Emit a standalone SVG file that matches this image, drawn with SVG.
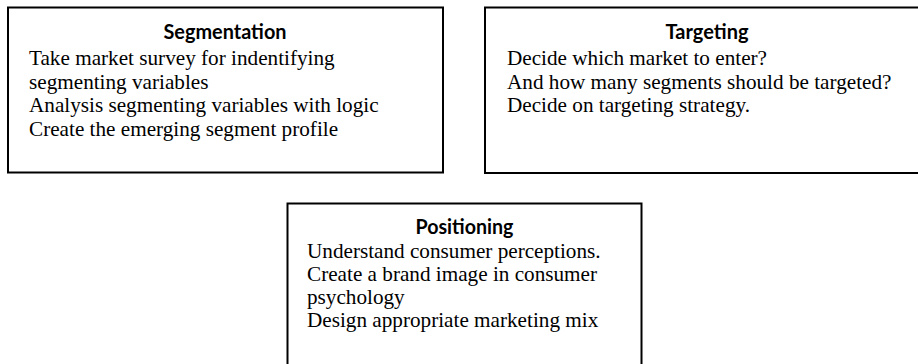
<svg xmlns="http://www.w3.org/2000/svg" width="918" height="364" viewBox="0 0 918 364">
<style>
.box{fill:#fff;stroke:#000;stroke-width:2}
.title{font-family:Lato,"Open Sans","Liberation Sans",sans-serif;font-weight:bold;font-size:20px;fill:#000;text-anchor:middle}
.body{font-family:"Liberation Serif","Times New Roman",serif;font-size:21.2px;fill:#000}
</style>
<rect width="918" height="364" fill="#fff"/>
<g id="connectors"/>
<g id="segmentation">
<rect class="box" x="8" y="7.5" width="435" height="165"/>
<text class="title" x="225" y="39" textLength="123" lengthAdjust="spacingAndGlyphs">Segmentation</text>
<text class="body" x="29" y="65">Take market survey for indentifying</text>
<text class="body" x="29" y="88.5">segmenting variables</text>
<text class="body" x="29" y="112">Analysis segmenting variables with logic</text>
<text class="body" x="29" y="135.5">Create the emerging segment profile</text>
</g>
<g id="targeting">
<rect class="box" x="485" y="7.5" width="445" height="165.5"/>
<text class="title" x="707" y="39" textLength="83" lengthAdjust="spacingAndGlyphs">Targeting</text>
<text class="body" x="507" y="65">Decide which market to enter?</text>
<text class="body" x="507" y="88.5">And how many segments should be targeted?</text>
<text class="body" x="507" y="112">Decide on targeting strategy.</text>
</g>
<g id="positioning">
<rect class="box" x="287.5" y="203.5" width="354" height="170"/>
<text class="title" x="464.5" y="234" textLength="98" lengthAdjust="spacingAndGlyphs">Positioning</text>
<text class="body" x="307" y="258">Understand consumer perceptions.</text>
<text class="body" x="307" y="281">Create a brand image in consumer</text>
<text class="body" x="307" y="304">psychology</text>
<text class="body" x="307" y="327">Design appropriate marketing mix</text>
</g>
</svg>
